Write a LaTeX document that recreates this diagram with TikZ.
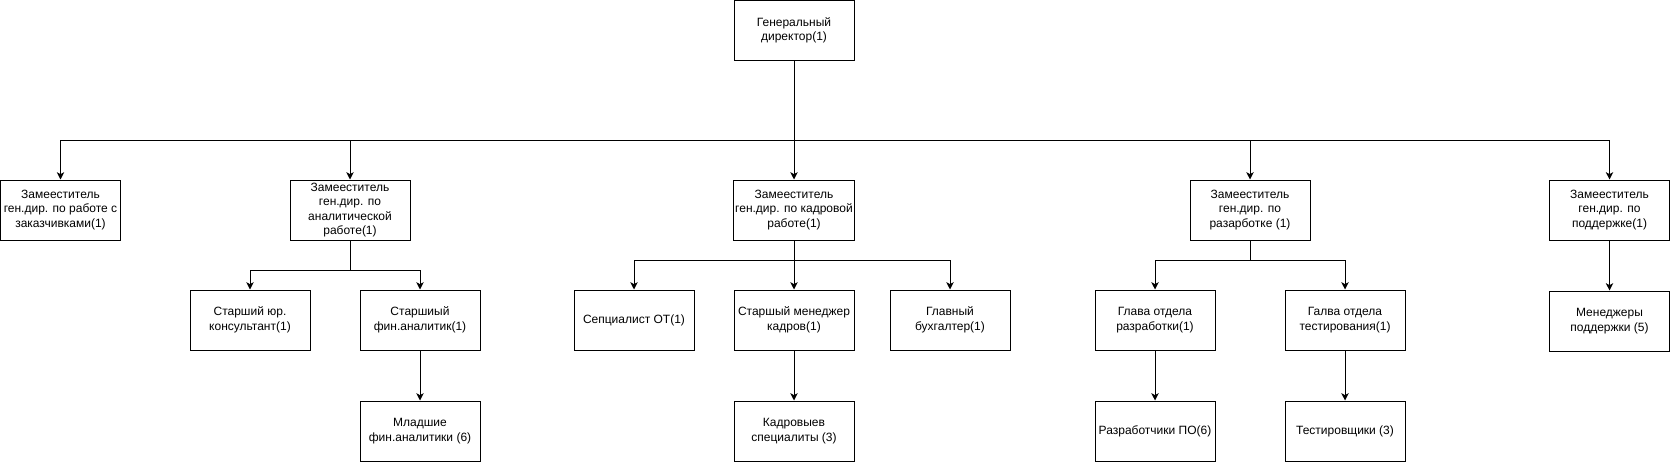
\documentclass[tikz,border=0pt]{standalone}
\usepackage{fontspec}
\setmainfont{Liberation Sans}
\usepackage{tikz}
\usetikzlibrary{arrows.meta, positioning}

\begin{document}
\begin{tikzpicture}[x=0.75pt, y=-0.75pt, line width=0.75pt, node distance=37.5pt,
    every node/.style={font=\fontsize{9}{10.9}\selectfont},
    unit/.style={draw, align=center, minimum width=90pt, minimum height=45pt, inner sep=1pt},
    tallunit/.style={unit, inner ysep=-4pt},
    link/.style={-{Stealth[length=5.5pt, width=5.5pt, inset=1.5pt]}}]
    \useasboundingbox (0,0) rectangle (1671,461);

    % top
    \node[unit] (gd) at (794,30.5) {Генеральный\\директор(1)};

    % deputies
    \node[unit] (zclient) at (60.5,210) {Замееститель\\ген.дир. по работе с\\заказчивками(1)};
    \node[tallunit] (zanal) at (350,210) {Замееститель\\ген.дир. по\\аналитической\\работе(1)};
    \node[unit] (zhr) at (794,210) {Замееститель\\ген.дир. по кадровой\\работе(1)};
    \node[unit] (zdev) at (1250,210) {Замееститель\\ген.дир. по\\разарботке (1)};
    \node[unit] (zsup) at (1609.5,210) {Замееститель\\ген.дир. по\\поддержке(1)};

    % analytics
    \node[unit] (jur) at (250,320) {Старший юр.\\консультант(1)};
    \node[unit] (finsr) at (420,320) {Старшиый\\фин.аналитик(1)};
    \node[unit, below=of finsr] (finjr) {Младшие\\фин.аналитики (6)};

    % hr
    \node[unit] (ot) at (634,320) {Сепциалист ОТ(1)};
    \node[unit] (hrmgr) at (794,320) {Старшый менеджер\\кадров(1)};
    \node[unit] (acc) at (950,320) {Главный\\бухгалтер(1)};
    \node[unit, below=of hrmgr] (hrspec) {Кадровыев\\специалиты (3)};

    % development
    \node[unit] (devhead) at (1155,320) {Глава отдела\\разработки(1)};
    \node[unit] (testhead) at (1345,320) {Галва отдела\\тестирования(1)};
    \node[unit, below=of devhead] (devs) {Разработчики ПО(6)};
    \node[unit, below=of testhead] (testers) {Тестировщики (3)};

    % support
    \node[unit, below=of zsup] (supmgr) {Менеджеры\\поддержки (5)};

    % buses
    \coordinate (bgd) at (794,140);
    \coordinate (banal) at (350,270);
    \coordinate (bhr) at (794,260);
    \coordinate (bdev) at (1250,260);

    \draw (gd) -- (bgd);
    \foreach \n in {zclient, zanal, zhr, zdev, zsup}
        \draw[link] (bgd) -| (\n);

    \draw (zanal) -- (banal);
    \foreach \n in {jur, finsr}
        \draw[link] (banal) -| (\n);
    \draw[link] (finsr) -- (finjr);

    \draw (zhr) -- (bhr);
    \foreach \n in {ot, hrmgr, acc}
        \draw[link] (bhr) -| (\n);
    \draw[link] (hrmgr) -- (hrspec);

    \draw (zdev) -- (bdev);
    \foreach \n in {devhead, testhead}
        \draw[link] (bdev) -| (\n);
    \draw[link] (devhead) -- (devs);
    \draw[link] (testhead) -- (testers);

    \draw[link] (zsup) -- (supmgr);
\end{tikzpicture}
\end{document}
